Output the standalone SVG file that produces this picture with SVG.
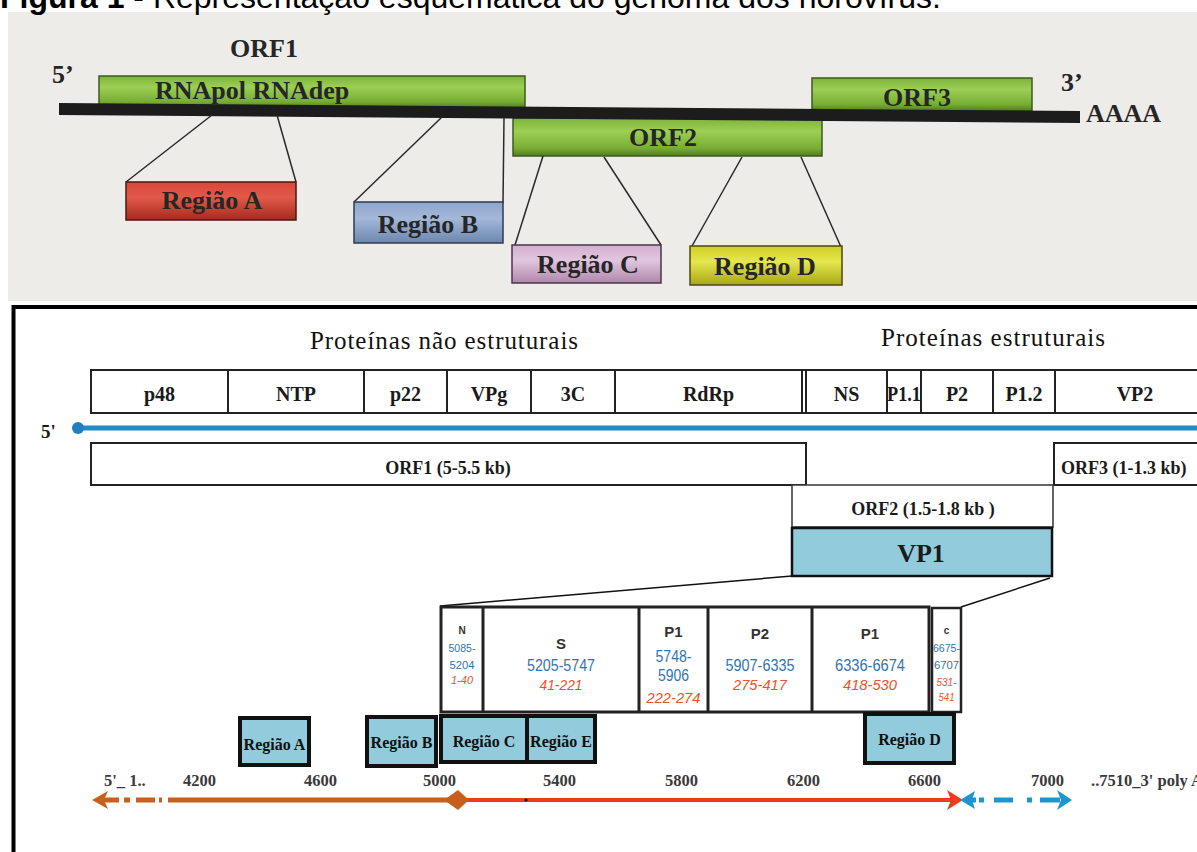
<svg xmlns="http://www.w3.org/2000/svg" width="1197" height="852" viewBox="0 0 1197 852">
<defs>
<style>
.ts{font-family:"Liberation Serif",serif;font-weight:bold;fill:#262626}
.up{font-size:26px}
.lb{font-family:"Liberation Serif",serif;font-weight:bold;fill:#1a1a1a}
.pr{font-size:20px;text-anchor:middle}
.orf{font-size:18px}
.reg{font-family:"Liberation Serif",serif;font-weight:bold;font-size:16px;fill:#111;text-anchor:middle}
.ax{font-family:"Liberation Serif",serif;font-weight:bold;font-size:16.5px;fill:#3a3a3a}
.cal{font-family:"Liberation Sans",Arial,sans-serif;text-anchor:middle}
.nm{font-weight:bold;fill:#333}
.bl{fill:#2f75b0}
.rd{fill:#f0502a;font-style:italic}
.box{fill:#fff;stroke:#222;stroke-width:2}
.thin{stroke:#2a2a2a;stroke-width:1.5;fill:none}
.rbox{fill:#92cbdc;stroke:#111;stroke-width:4}
</style>
<linearGradient id="gG" x1="0" y1="0" x2="0" y2="1"><stop offset="0" stop-color="#7fb23b"/><stop offset="0.35" stop-color="#9ccf54"/><stop offset="0.8" stop-color="#78ad33"/><stop offset="1" stop-color="#4f7d1c"/></linearGradient>
<linearGradient id="gR" x1="0" y1="0" x2="0" y2="1"><stop offset="0" stop-color="#d8463a"/><stop offset="0.4" stop-color="#e25a48"/><stop offset="1" stop-color="#a52a20"/></linearGradient>
<linearGradient id="gB" x1="0" y1="0" x2="0" y2="1"><stop offset="0" stop-color="#8ea6cc"/><stop offset="0.4" stop-color="#a3b8da"/><stop offset="1" stop-color="#6c86ad"/></linearGradient>
<linearGradient id="gP" x1="0" y1="0" x2="0" y2="1"><stop offset="0" stop-color="#d2aece"/><stop offset="0.4" stop-color="#e2c6df"/><stop offset="1" stop-color="#ae87aa"/></linearGradient>
<linearGradient id="gY" x1="0" y1="0" x2="0" y2="1"><stop offset="0" stop-color="#cfcf22"/><stop offset="0.4" stop-color="#e6e650"/><stop offset="1" stop-color="#a8a812"/></linearGradient>
</defs>

<rect x="0" y="0" width="1197" height="852" fill="#ffffff"/>
<!-- upper panel background -->
<rect x="8" y="12" width="1189" height="289" fill="#eeece9"/>

<text x="0" y="8" font-family="'Liberation Sans',Arial,sans-serif" font-size="32" fill="#000"><tspan font-weight="bold">Figura 1</tspan> - Representação esquemática do genoma dos norovírus.</text>

<!-- ===== Upper diagram ===== -->
<g id="orf1-top">
<rect x="99" y="76" width="426" height="32" fill="url(#gG)" stroke="#3d5c1c" stroke-width="1.5"/>
<text class="ts up" x="230" y="57">ORF1</text>
<text class="ts up" x="155" y="99">RNApol RNAdep</text>
</g>
<g id="orf3-top">
<rect x="812" y="78" width="220" height="33" fill="url(#gG)" stroke="#3d5c1c" stroke-width="1.5"/>
<text class="ts up" x="917" y="106" text-anchor="middle">ORF3</text>
</g>
<g id="orf2-top">
<rect x="513" y="118" width="309" height="38" fill="url(#gG)" stroke="#3d5c1c" stroke-width="1.5"/>
<text class="ts up" x="663" y="146" text-anchor="middle">ORF2</text>
</g>
<g id="genome-line">
<polygon points="59,103 1080,111 1080,123 59,115" fill="#1c1c1c"/>
<text class="ts up" x="52" y="83">5’</text>
<text class="ts up" x="1061" y="91">3’</text>
<text class="ts up" x="1086" y="122">AAAA</text>
</g>

<g id="top-connectors">
<line class="thin" x1="212" y1="115" x2="126" y2="182"/>
<line class="thin" x1="277" y1="115" x2="296" y2="182"/>
<line class="thin" x1="442" y1="117" x2="354" y2="202"/>
<line class="thin" x1="504" y1="118" x2="503" y2="203"/>
<line class="thin" x1="543" y1="156" x2="515" y2="245"/>
<line class="thin" x1="604" y1="157" x2="661" y2="245"/>
<line class="thin" x1="742" y1="157" x2="692" y2="246"/>
<line class="thin" x1="801" y1="157" x2="841" y2="247"/>
</g>

<g id="regiao-a-top">
<rect x="126" y="182" width="170" height="38" fill="url(#gR)" stroke="#4a1712" stroke-width="1.5"/>
<text class="ts up" x="212" y="209" text-anchor="middle">Região A</text>
</g>
<g id="regiao-b-top">
<rect x="354" y="202" width="149" height="41" fill="url(#gB)" stroke="#2f3a52" stroke-width="1.5"/>
<text class="ts up" x="428" y="233" text-anchor="middle">Região B</text>
</g>
<g id="regiao-c-top">
<rect x="512" y="245" width="149" height="38" fill="url(#gP)" stroke="#4a3648" stroke-width="1.5"/>
<text class="ts up" x="588" y="273" text-anchor="middle">Região C</text>
</g>
<g id="regiao-d-top">
<rect x="690" y="246" width="152" height="39" fill="url(#gY)" stroke="#4a4a0e" stroke-width="1.5"/>
<text class="ts up" x="765" y="275" text-anchor="middle">Região D</text>
</g>

<!-- ===== Lower diagram ===== -->
<rect x="13.5" y="307" width="1200" height="560" fill="#fff" stroke="#000" stroke-width="4"/>

<text x="310" y="349" font-family="'Liberation Serif',serif" font-size="25" fill="#111" textLength="268" lengthAdjust="spacing">Proteínas não estruturais</text>
<text x="881" y="346" font-family="'Liberation Serif',serif" font-size="25" fill="#111" textLength="224" lengthAdjust="spacing">Proteínas estruturais</text>

<g id="proteins">
<rect class="box" x="91" y="370" width="1120" height="43"/>
<path d="M228,370V413M364,370V413M447,370V413M531,370V413M615,370V413M802,370V413M806,370V413M887,370V413M921,370V413M993,370V413M1055,370V413" stroke="#222" stroke-width="2" fill="none"/>
<text class="lb pr" x="159.5" y="401">p48</text>
<text class="lb pr" x="296" y="401">NTP</text>
<text class="lb pr" x="405.5" y="401">p22</text>
<text class="lb pr" x="489" y="401">VPg</text>
<text class="lb pr" x="573" y="401">3C</text>
<text class="lb pr" x="708.5" y="401">RdRp</text>
<text class="lb pr" x="846.5" y="401">NS</text>
<text class="lb pr" x="904" y="401" textLength="34" lengthAdjust="spacingAndGlyphs">P1.1</text>
<text class="lb pr" x="957" y="401">P2</text>
<text class="lb pr" x="1024" y="401">P1.2</text>
<text class="lb pr" x="1135" y="401">VP2</text>
</g>

<g id="genome-5">
<line x1="78" y1="428" x2="1197" y2="428" stroke="#2389c9" stroke-width="5"/>
<circle cx="78" cy="428" r="6" fill="#1f7fbf"/>
<text class="lb" x="41" y="438" font-size="19">5'</text>
</g>

<g id="orf1">
<rect class="box" x="91" y="443" width="715" height="42"/>
<text class="lb orf" x="448" y="474" text-anchor="middle">ORF1 (5-5.5 kb)</text>
</g>
<g id="orf3">
<rect class="box" x="1054" y="443" width="200" height="42"/>
<text class="lb orf" x="1061" y="474">ORF3 (1-1.3 kb)</text>
</g>
<g id="orf2">
<rect x="792" y="485" width="261" height="42" fill="#fff" stroke="#333" stroke-width="1.5"/>
<text class="lb orf" x="923" y="515" text-anchor="middle">ORF2 (1.5-1.8 kb )</text>
</g>
<g id="vp1">
<rect x="792" y="528" width="260" height="48" fill="#92cbdc" stroke="#111" stroke-width="2.5"/>
<text class="lb" x="921" y="562" font-size="26" text-anchor="middle">VP1</text>
</g>

<g id="connectors">
<line x1="792" y1="576" x2="440" y2="606" stroke="#111" stroke-width="1.5"/>
<line x1="1050" y1="578" x2="961" y2="607" stroke="#111" stroke-width="1.5"/>
</g>

<g id="vp1-domains">
<rect x="441" y="607" width="488" height="105" fill="#fff" stroke="#222" stroke-width="3"/>
<path d="M483,607V712M639,607V712M708,607V712M812,607V712" stroke="#222" stroke-width="3"/>
<rect x="932" y="608" width="29" height="104" fill="#fff" stroke="#222" stroke-width="2.5"/>
<g class="cal">
<text class="nm" x="462" y="634" font-size="10">N</text>
<text class="bl" x="462" y="652" font-size="11" textLength="27" lengthAdjust="spacingAndGlyphs">5085-</text>
<text class="bl" x="462" y="669" font-size="11" textLength="25" lengthAdjust="spacingAndGlyphs">5204</text>
<text class="rd" x="462" y="684" font-size="11" textLength="22" lengthAdjust="spacingAndGlyphs">1-40</text>

<text class="nm" x="561" y="649" font-size="15">S</text>
<text class="bl" x="561" y="671" font-size="16" textLength="68" lengthAdjust="spacingAndGlyphs">5205-5747</text>
<text class="rd" x="561" y="690" font-size="15" textLength="43" lengthAdjust="spacingAndGlyphs">41-221</text>

<text class="nm" x="673.5" y="637" font-size="15">P1</text>
<text class="bl" x="673.5" y="662" font-size="16" textLength="36" lengthAdjust="spacingAndGlyphs">5748-</text>
<text class="bl" x="673.5" y="681" font-size="16" textLength="31" lengthAdjust="spacingAndGlyphs">5906</text>
<text class="rd" x="673.5" y="703" font-size="15" textLength="54" lengthAdjust="spacingAndGlyphs">222-274</text>

<text class="nm" x="760" y="639" font-size="15">P2</text>
<text class="bl" x="760" y="671" font-size="16" textLength="69" lengthAdjust="spacingAndGlyphs">5907-6335</text>
<text class="rd" x="760" y="690" font-size="15" textLength="54" lengthAdjust="spacingAndGlyphs">275-417</text>

<text class="nm" x="870" y="639" font-size="15">P1</text>
<text class="bl" x="870" y="671" font-size="16" textLength="70" lengthAdjust="spacingAndGlyphs">6336-6674</text>
<text class="rd" x="870" y="690" font-size="15" textLength="54" lengthAdjust="spacingAndGlyphs">418-530</text>

<text class="nm" x="946.5" y="634" font-size="10">c</text>
<text class="bl" x="946.5" y="652" font-size="11" textLength="27" lengthAdjust="spacingAndGlyphs">6675-</text>
<text class="bl" x="946.5" y="669" font-size="11" textLength="25" lengthAdjust="spacingAndGlyphs">6707</text>
<text class="rd" x="946.5" y="686" font-size="11" textLength="20" lengthAdjust="spacingAndGlyphs">531-</text>
<text class="rd" x="946.5" y="701" font-size="11" textLength="16" lengthAdjust="spacingAndGlyphs">541</text>
</g>
</g>

<g id="regiao-a">
<rect class="rbox" x="240" y="718" width="69" height="47"/>
<text class="reg" x="274.5" y="750">Região A</text>
</g>
<g id="regiao-b">
<rect class="rbox" x="367" y="717" width="69" height="49"/>
<text class="reg" x="401.5" y="748">Região B</text>
</g>
<g id="regiao-c">
<rect class="rbox" x="441" y="716" width="86" height="46"/>
<text class="reg" x="484" y="747">Região C</text>
</g>
<g id="regiao-e">
<rect class="rbox" x="527" y="716" width="68" height="46"/>
<text class="reg" x="561" y="747">Região E</text>
</g>
<g id="regiao-d">
<rect class="rbox" x="865" y="714" width="89" height="49"/>
<text class="reg" x="909.5" y="745">Região D</text>
</g>

<g id="axis-labels">
<text class="ax" x="104" y="786">5'_ 1..</text>
<text class="ax" x="183" y="786">4200</text>
<text class="ax" x="304" y="786">4600</text>
<text class="ax" x="423" y="786">5000</text>
<text class="ax" x="543" y="786">5400</text>
<text class="ax" x="665" y="786">5800</text>
<text class="ax" x="787" y="786">6200</text>
<text class="ax" x="908" y="786">6600</text>
<text class="ax" x="1031" y="786">7000</text>
<text class="ax" x="1091" y="786">..7510_3' poly A</text>
</g>

<g id="axis">
<polygon points="92,800 108,791 104,800 108,809" fill="#c6601c"/>
<path d="M104,800H119M124,800H130M136,800H155M159,800H162M168,800H450" stroke="#c6601c" stroke-width="5" fill="none"/>
<line x1="458" y1="800" x2="952" y2="800" stroke="#f03c1e" stroke-width="4"/>
<polygon points="444,800 458,790 469,800 458,810" fill="#c6601c"/>
<polygon points="963,800 947,790 951,800 947,810" fill="#f03c1e"/>
<circle cx="526" cy="800" r="1.6" fill="#111"/>
<polygon points="960,800 975,791 972,800 975,809" fill="#1b96d0"/>
<path d="M972,800H976M979,800H984M994,800H1013M1027,800H1032M1040,800H1060" stroke="#1b96d0" stroke-width="5" fill="none"/>
<polygon points="1072,800 1057,790 1061,800 1057,810" fill="#1b96d0"/>
</g>
</svg>
